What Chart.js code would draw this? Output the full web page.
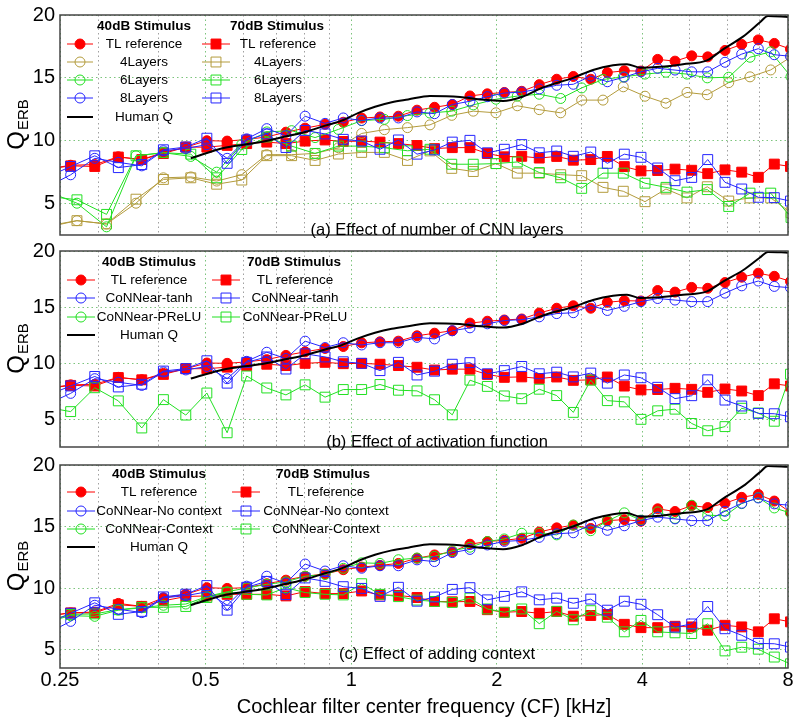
<!DOCTYPE html>
<html>
<head>
<meta charset="utf-8">
<title>Q_ERB vs CF</title>
<script src="https://cdn.jsdelivr.net/npm/chart.js"></script>
<style>
  body { margin: 0; background: #fff; }
  #wrap { position: relative; width: 800px; height: 723px; }
  canvas { position: absolute; left: 0; }
</style>
</head>
<body>
<div id="wrap">
  <canvas id="panelA" width="800" height="250" style="top:0px"></canvas>
  <canvas id="panelB" width="800" height="226" style="top:236px"></canvas>
  <canvas id="panelC" width="800" height="273" style="top:450px"></canvas>
</div>
<script>
// ---- Data ----

// CF (kHz) of the channels used for TL / 8-layer / tanh / PReLU / context curves
const cfA = [0.232, 0.263, 0.295, 0.330, 0.369, 0.409, 0.455, 0.503, 0.554, 0.608, 0.669,
             0.733, 0.803, 0.883, 0.963, 1.051, 1.147, 1.252, 1.368, 1.487, 1.618, 1.760,
             1.912, 2.073, 2.252, 2.448, 2.660, 2.879, 3.128, 3.385, 3.670, 3.973, 4.302,
             4.672, 5.058, 5.459, 5.927, 6.418, 6.945, 7.495, 8.095];
// CF (kHz) of the channels used for the 4- and 6-layer curves
const cfB = [0.234, 0.271, 0.312, 0.359, 0.409, 0.466, 0.527, 0.594, 0.669, 0.753, 0.842,
             0.941, 1.051, 1.171, 1.307, 1.455, 1.614, 1.788, 1.992, 2.205, 2.448, 2.711,
             2.996, 3.316, 3.652, 4.050, 4.475, 4.946, 5.448, 6.033, 6.676, 7.368, 8.115];

// TL reference (panels a and b)
const tl40 = [7.7, 8.05, 8.1, 8.72, 8.5, 9.07, 9.49, 10.0, 9.97, 10.1, 10.3, 10.68, 11.0, 11.3,
              11.47, 11.8, 11.89, 11.95, 12.43, 12.66, 12.88, 13.56, 13.73, 13.84, 13.93, 14.46,
              14.89, 15.11, 14.89, 15.42, 15.56, 15.54, 16.47, 16.33, 16.75, 16.67, 17.18, 17.66,
              18.02, 17.74, 17.29];
const tl70 = [7.7, 8.0, 7.95, 8.7, 8.5, 8.98, 9.49, 9.49, 9.63, 9.77, 9.89, 9.77, 9.97, 10.06,
              9.94, 9.97, 9.89, 9.77, 9.62, 9.37, 9.45, 9.45, 8.98, 8.72, 8.76, 8.62, 8.75, 8.45,
              8.5, 8.75, 7.94, 7.6, 7.63, 7.74, 7.65, 7.38, 7.68, 7.5, 7.09, 8.14, 7.95];

// CoNNear 8 layers / tanh / no context (same curves in all panels)
const cnn40 = [6.2, 7.29, 8.6, 8.28, 8.0, 9.2, 9.38, 9.69, 8.6, 10.15, 10.96, 10.4, 11.95, 11.38,
               11.81, 11.61, 11.81, 11.81, 12.29, 12.15, 12.88, 13.14, 13.5, 13.79, 13.87, 14.12,
               14.41, 14.49, 15.14, 14.69, 15.06, 15.48, 15.76, 15.62, 15.48, 15.48, 16.24, 16.89,
               17.32, 16.84, 16.72];
const cnn70 = [7.0, 7.95, 8.8, 7.86, 8.1, 9.28, 9.5, 10.2, 8.2, 10.06, 10.54, 9.46, 10.82, 10.54,
               10.11, 9.97, 9.32, 10.06, 8.93, 9.27, 9.89, 10.03, 9.04, 9.32, 9.69, 9.04, 9.18, 8.76,
               9.1, 8.2, 8.93, 8.68, 7.83, 6.82, 7.08, 8.5, 6.69, 6.16, 5.5, 5.47, 5.2];

// panel (a): 4 and 6 layers
const lay4_40 = [3.2, 3.64, 3.38, 5.03, 7.05, 7.12, 6.79, 7.3, 8.89, 8.89, 8.99, 9.44, 10.58, 10.88,
                 11.04, 11.26, 12.02, 12.35, 12.22, 12.78, 12.47, 12.22, 13.23, 13.23, 14.29, 13.54,
                 12.98, 13.84, 13.66, 14.62, 15.08, 15.63, 16.66];
const lay4_70 = [3.1, 3.64, 3.38, 5.35, 6.92, 7.05, 6.54, 6.87, 8.81, 8.81, 8.43, 8.94, 9.07, 9.07,
                 8.43, 9.19, 7.8, 7.55, 8.18, 7.42, 7.42, 7.3, 7.22, 6.29, 5.98, 5.15, 6.16, 5.45,
                 6.34, 5.2, 5.45, 5.45, 4.27];
const lay6_40 = [6.0, 5.03, 3.15, 8.8, 9.05, 8.75, 7.5, 9.7, 10.7, 10.8, 10.25, 10.9, 11.6, 11.7,
                 12.0, 12.2, 12.35, 12.85, 13.3, 13.55, 13.7, 13.36, 14.2, 14.87, 15.08, 15.3, 15.45,
                 15.3, 15.0, 15.05, 16.64, 17.07, 15.1];
const lay6_70 = [5.6, 5.3, 4.14, 8.8, 9.05, 8.93, 7.05, 9.3, 10.3, 9.57, 8.99, 9.57, 9.57, 9.44,
                 9.2, 9.32, 8.13, 8.13, 8.18, 8.31, 7.47, 7.05, 6.21, 7.42, 7.42, 6.62, 6.29, 5.91,
                 6.11, 4.77, 5.83, 5.83, 3.9];

// panel (b): PReLU (40 dB curve is not visible in the plot)
const prelu40 = [];
const prelu70 = [6.08, 5.66, 7.79, 6.62, 4.2, 6.73, 5.35, 7.32, 3.77, 8.84, 7.77, 7.15, 8.05, 6.95,
                 7.63, 7.63, 8.08, 7.57, 7.51, 6.72, 5.37, 8.47, 7.91, 7.06, 6.81, 7.66, 7.09, 5.59,
                 8.47, 6.64, 6.53, 4.97, 5.73, 5.88, 4.6, 3.95, 4.32, 5.96, 5.54, 4.8, 9.0];

// panel (c): TL reference and context model
const tl40c = [7.7, 7.98, 8.05, 8.75, 8.51, 9.2, 9.49, 10.03, 9.97, 10.03, 10.35, 10.64, 10.96, 11.14,
               11.49, 11.7, 11.84, 12.0, 12.42, 12.69, 12.95, 13.56, 13.78, 13.88, 14.04, 14.55,
               14.89, 15.11, 14.84, 15.48, 15.56, 15.43, 16.44, 16.22, 16.7, 16.54, 16.89, 17.37,
               17.61, 17.07, 16.14];
const tl70c = [7.7, 7.98, 7.98, 8.64, 8.51, 8.96, 9.31, 9.36, 9.49, 9.49, 9.49, 9.36, 9.71, 9.55,
               9.55, 9.76, 9.44, 9.4, 9.23, 8.91, 8.88, 8.91, 8.24, 8.03, 8.09, 7.95, 8.09, 7.71,
               7.77, 7.85, 7.05, 6.78, 6.78, 6.89, 6.84, 6.57, 6.97, 6.84, 6.44, 7.5, 7.25];
const ctx40c = [7.2, 7.75, 7.7, 8.2, 8.4, 8.6, 8.7, 9.3, 9.7, 10.0, 10.3, 10.5, 10.96, 11.1, 11.6,
                12.05, 12.0, 12.3, 12.44, 12.57, 13.03, 13.32, 13.78, 13.99, 14.45, 14.45, 14.32,
                15.12, 14.66, 15.44, 16.11, 15.52, 16.19, 15.66, 16.73, 15.92, 15.87, 16.86, 17.35,
                16.51, 16.1];
const ctx70c = [7.3, 7.85, 7.9, 8.24, 8.43, 8.43, 8.5, 9.23, 9.63, 9.49, 9.44, 10.03, 9.63, 9.49,
                9.44, 10.35, 9.49, 9.3, 9.02, 8.91, 8.83, 9.18, 8.3, 8.03, 8.3, 7.1, 8.11, 7.42, 8.16,
                7.63, 6.44, 7.37, 6.44, 6.36, 6.3, 7.1, 4.89, 5.19, 5.03, 4.39, 3.84];

// Human Q (smooth curve)
const humanF = [0.466, 0.548, 0.603, 0.663, 0.730, 0.803, 0.883, 0.956, 1.033, 1.120, 1.213, 1.311,
                1.455, 1.679, 1.846, 2.060, 2.252, 2.492, 2.875, 3.162, 3.478, 3.717, 3.955, 4.350,
                4.853, 5.441, 5.872, 6.457, 7.002, 7.273, 8.0];
const humanQ = [8.61, 9.44, 9.7, 9.95, 10.33, 10.7, 11.2, 11.6, 12.2, 12.7, 13.06, 13.28, 13.56,
                13.48, 13.28, 13.16, 13.48, 14.24, 15.0, 15.63, 16.0, 16.09, 15.81, 15.88, 16.09,
                16.39, 17.27, 18.28, 19.42, 19.92, 19.85];

// axis ticks
const xGrid = [0.25, 0.3, 0.4, 0.5, 0.6, 0.7, 0.8, 0.9, 1, 2, 3, 4, 5, 6, 7, 8];
const xLabels = [0.25, 0.5, 1, 2, 4, 8];
const yTicks = [5, 10, 15, 20];

// ---- Styles ----
const FONT = '"Liberation Sans", Arial, Helvetica, sans-serif';
const RED = '#ff0000', BLUE = '#2525ff', GREEN = '#22e022', OLIVE = '#b39b3c', BLACK = '#000000';
const GRID_MAJOR = 'rgba(110,190,110,0.9)';
const GRID_MINOR = 'rgba(150,150,150,0.9)';

Chart.defaults.font.family = FONT;

// build one dataset from a CF array and a value array
function series(label, cf, vals, color, shape, filled, order) {
  return {
    label: label,
    data: vals.map((v, i) => ({ x: cf[i], y: v })),
    borderColor: color,
    borderWidth: 1,
    pointStyle: shape,
    pointRadius: shape === 'rect' ? 7 : 5,
    pointBorderColor: color,
    pointBorderWidth: 1,
    pointBackgroundColor: filled ? color : 'rgba(0,0,0,0)',
    order: order
  };
}

function humanSeries() {
  return {
    label: 'Human Q',
    data: humanF.map((f, i) => ({ x: f, y: humanQ[i] })),
    borderColor: BLACK,
    borderWidth: 2,
    pointRadius: 0,
    cubicInterpolationMode: 'monotone',
    order: 0
  };
}

// marker used in the hand-drawn legend
function drawMarker(ctx, d, x, y) {
  ctx.lineWidth = d.pointBorderWidth;
  ctx.strokeStyle = d.pointBorderColor;
  ctx.fillStyle = d.pointBackgroundColor;
  ctx.beginPath();
  if (d.pointStyle === 'rect') {
    const s = d.pointRadius * Math.SQRT1_2;
    ctx.rect(x - s, y - s, 2 * s, 2 * s);
  } else {
    ctx.arc(x, y, d.pointRadius, 0, Math.PI * 2);
  }
  ctx.fill();
  ctx.stroke();
}

// per panel: legend layout, panel caption
const decorCfg = {
  panelA: {
    headY: 26, rows: [44, 62, 80, 98, 117],
    cols: [
      { head: '40dB Stimulus', headX: 144, x1: 67, x2: 93, textX: 144, items: [0, 1, 2, 3, 4] },
      { head: '70dB Stimulus', headX: 277, x1: 202, x2: 230, textX: 278, items: [5, 6, 7, 8] }
    ],
    caption: '(a) Effect of number of CNN layers', capY: 230
  },
  panelB: {
    headY: 26, rows: [44, 62, 81, 99],
    cols: [
      { head: '40dB Stimulus', headX: 149, x1: 67, x2: 95, textX: 149, items: [0, 1, 2, 3] },
      { head: '70dB Stimulus', headX: 294, x1: 212, x2: 240, textX: 295, items: [4, 5, 6] }
    ],
    caption: '(b) Effect of activation function', capY: 206
  },
  panelC: {
    headY: 24, rows: [42, 61, 79, 97],
    cols: [
      { head: '40dB Stimulus', headX: 159, x1: 67, x2: 95, textX: 159, items: [0, 1, 2, 3] },
      { head: '70dB Stimulus', headX: 323, x1: 232, x2: 260, textX: 326, items: [4, 5, 6] }
    ],
    caption: '(c) Effect of adding context', capY: 204
  }
};

// frame, Q_ERB label, legend and caption
const decor = {
  id: 'decor',
  afterDatasetsDraw(chart) {
    const cfg = decorCfg[chart.canvas.id];
    const ctx = chart.ctx;
    const a = chart.chartArea;
    const ds = chart.data.datasets;
    ctx.save();

    // box around the axes
    ctx.strokeStyle = '#454545';
    ctx.lineWidth = 1.5;
    ctx.strokeRect(a.left, a.top, a.right - a.left, a.bottom - a.top);

    // y label Q_ERB, rotated
    ctx.save();
    ctx.translate(22, (a.top + a.bottom) / 2);
    ctx.rotate(-Math.PI / 2);
    ctx.fillStyle = '#000';
    ctx.textBaseline = 'alphabetic';
    ctx.textAlign = 'left';
    ctx.font = '24px ' + FONT;
    const wq = ctx.measureText('Q').width;
    ctx.font = '15px ' + FONT;
    const we = ctx.measureText('ERB').width;
    const x0 = -(wq + we) / 2;
    ctx.font = '24px ' + FONT;
    ctx.fillText('Q', x0, 2);
    ctx.font = '15px ' + FONT;
    ctx.fillText('ERB', x0 + wq + 1, 6);
    ctx.restore();

    // legend
    ctx.textAlign = 'center';
    ctx.textBaseline = 'middle';
    ctx.fillStyle = '#000';
    ctx.font = 'bold 13.5px ' + FONT;
    cfg.cols.forEach(col => ctx.fillText(col.head, col.headX, cfg.headY));
    cfg.cols.forEach(col => {
      col.items.forEach((di, r) => {
        const d = ds[di];
        const y = cfg.rows[r];
        ctx.strokeStyle = d.borderColor;
        ctx.lineWidth = d.borderWidth;
        ctx.beginPath();
        ctx.moveTo(col.x1, y);
        ctx.lineTo(col.x2, y);
        ctx.stroke();
        if (d.pointRadius > 0) drawMarker(ctx, d, (col.x1 + col.x2) / 2, y);
        ctx.fillStyle = '#000';
        ctx.font = '13.5px ' + FONT;
        ctx.fillText(d.label, col.textX, y);
      });
    });

    // caption
    ctx.font = '16.5px ' + FONT;
    ctx.fillText(cfg.caption, 437, cfg.capY);
    ctx.restore();
  }
};

// common chart options
function makeOptions(yMin, padTop, padBottom, bottomAxis) {
  return {
    responsive: false,
    animation: false,
    events: [],
    layout: { padding: { top: padTop, bottom: padBottom, left: 0, right: 12 } },
    plugins: { legend: { display: false }, tooltip: { enabled: false } },
    scales: {
      x: {
        type: 'logarithmic',
        min: 0.25,
        max: 8,
        afterBuildTicks: s => { s.ticks = xGrid.map(v => ({ value: v, major: xLabels.includes(v) })); },
        afterFit: s => { s.height = bottomAxis ? 55 : 0; },
        grid: {
          drawTicks: false,
          lineWidth: 1,
          color: c => (c.tick && xLabels.includes(c.tick.value)) ? GRID_MAJOR : GRID_MINOR
        },
        border: { display: false, dash: [1.5, 3] },
        ticks: {
          display: bottomAxis,
          autoSkip: false,
          maxRotation: 0,
          minRotation: 0,
          padding: 0,
          color: '#000',
          font: { size: 20 },
          callback: v => xLabels.includes(v) ? String(v) : ''
        },
        title: {
          display: bottomAxis,
          text: 'Cochlear filter center frequency (CF) [kHz]',
          color: '#000',
          font: { size: 20 },
          padding: { top: 0, bottom: 4 }
        }
      },
      y: {
        min: yMin,
        max: 20,
        afterBuildTicks: s => { s.ticks = yTicks.map(v => ({ value: v })); },
        afterFit: s => { s.width = 60; },
        grid: { drawTicks: false, lineWidth: 1, color: GRID_MAJOR },
        border: { display: false, dash: [1.5, 3] },
        ticks: { padding: 5, color: '#000', font: { size: 20, lineHeight: 1 } }
      }
    }
  };
}

// ---- Panel (a): number of CNN layers ----
new Chart(document.getElementById('panelA'), {
  type: 'line',
  data: {
    datasets: [
      series('TL reference', cfA, tl40, RED, 'circle', true, 4),
      series('4Layers', cfB, lay4_40, OLIVE, 'circle', false, 3),
      series('6Layers', cfB, lay6_40, GREEN, 'circle', false, 2),
      series('8Layers', cfA, cnn40, BLUE, 'circle', false, 1),
      humanSeries(),
      series('TL reference', cfA, tl70, RED, 'rect', true, 4),
      series('4Layers', cfB, lay4_70, OLIVE, 'rect', false, 3),
      series('6Layers', cfB, lay6_70, GREEN, 'rect', false, 2),
      series('8Layers', cfA, cnn70, BLUE, 'rect', false, 1)
    ]
  },
  options: makeOptions(2.5, 14, 6, false),
  plugins: [decor]
});

// ---- Panel (b): activation function ----
new Chart(document.getElementById('panelB'), {
  type: 'line',
  data: {
    datasets: [
      series('TL reference', cfA, tl40, RED, 'circle', true, 4),
      series('CoNNear-tanh', cfA, cnn40, BLUE, 'circle', false, 1),
      series('CoNNear-PReLU', cfA, prelu40, GREEN, 'circle', false, 2),
      humanSeries(),
      series('TL reference', cfA, tl70, RED, 'rect', true, 4),
      series('CoNNear-tanh', cfA, cnn70, BLUE, 'rect', false, 1),
      series('CoNNear-PReLU', cfA, prelu70, GREEN, 'rect', false, 2)
    ]
  },
  options: makeOptions(2.5, 13, 5, false),
  plugins: [decor]
});

// ---- Panel (c): context ----
new Chart(document.getElementById('panelC'), {
  type: 'line',
  data: {
    datasets: [
      series('TL reference', cfA, tl40c, RED, 'circle', true, 4),
      series('CoNNear-No context', cfA, cnn40, BLUE, 'circle', false, 1),
      series('CoNNear-Context', cfA, ctx40c, GREEN, 'circle', false, 2),
      humanSeries(),
      series('TL reference', cfA, tl70c, RED, 'rect', true, 4),
      series('CoNNear-No context', cfA, cnn70, BLUE, 'rect', false, 1),
      series('CoNNear-Context', cfA, ctx70c, GREEN, 'rect', false, 2)
    ]
  },
  options: makeOptions(3.5, 11, 0, true),
  plugins: [decor]
});
</script>
</body>
</html>
